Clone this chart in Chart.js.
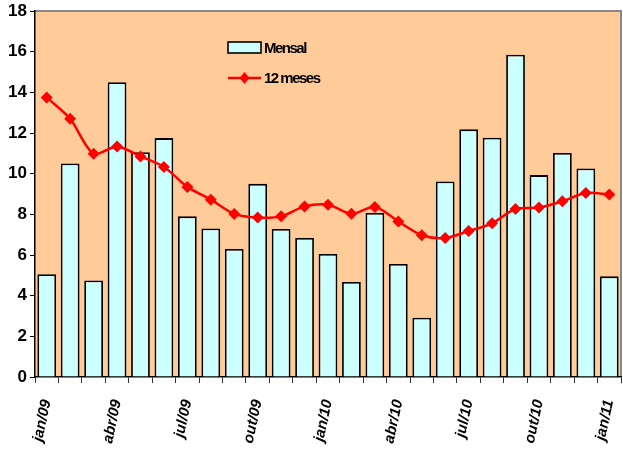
<!DOCTYPE html>
<html>
<head>
<meta charset="utf-8">
<script src="https://cdn.jsdelivr.net/npm/chart.js@4/dist/chart.umd.min.js"></script>
<style>
  html, body { margin: 0; padding: 0; background: #ffffff; }
  #wrap { width: 623px; height: 455px; }
</style>
</head>
<body>
<div id="wrap"><canvas id="c" width="623" height="455"></canvas></div>
<script>
// Months from jan/09 to jan/11
const categories = [
  'jan/09','fev/09','mar/09','abr/09','mai/09','jun/09','jul/09','ago/09','set/09','out/09','nov/09','dez/09',
  'jan/10','fev/10','mar/10','abr/10','mai/10','jun/10','jul/10','ago/10','set/10','out/10','nov/10','dez/10',
  'jan/11'
];
// Monthly values (bars)
const mensal = [5.05, 10.5, 4.75, 14.5, 11.05, 11.75, 7.9, 7.3, 6.3, 9.5, 7.28, 6.84,
                6.05, 4.67, 8.07, 5.56, 2.92, 9.62, 12.18, 11.77, 15.85, 9.93, 11.02, 10.26,
                4.95];
// Accumulated 12-month values (line)
const dozeMeses = [13.75, 12.7, 10.98, 11.34, 10.85, 10.33, 9.35, 8.72, 8.02, 7.84, 7.9, 8.39,
                   8.47, 8.03, 8.36, 7.65, 6.97, 6.84, 7.18, 7.56, 8.26, 8.33, 8.64, 9.05,
                   8.97];
// Labels printed on the x axis (quarterly)
const shownTicks = ['jan/09','abr/09','jul/09','out/09','jan/10','abr/10','jul/10','out/10','jan/11'];
// Y axis ticks
const yTicks = [0, 2, 4, 6, 8, 10, 12, 14, 16, 18];

const FONT = '"Liberation Sans", Arial, sans-serif';

// Peach plot background with grey frame on top and right
const plotFrame = {
  id: 'plotFrame',
  beforeDraw(chart) {
    const { ctx, chartArea: a } = chart;
    ctx.save();
    ctx.fillStyle = '#FFCC99';
    ctx.fillRect(a.left, a.top, a.right - a.left, a.bottom - a.top);
    ctx.strokeStyle = '#888888';
    ctx.lineWidth = 2;
    ctx.beginPath();
    ctx.moveTo(a.left, a.top);
    ctx.lineTo(a.right, a.top);
    ctx.lineTo(a.right, a.bottom);
    ctx.stroke();
    ctx.restore();
  }
};

// Legend drawn inside the plot area
const innerLegend = {
  id: 'innerLegend',
  afterDatasetsDraw(chart) {
    const { ctx, chartArea: a } = chart;
    const x0 = a.left + 193;
    const y1 = a.top + 37;
    const y2 = a.top + 67;
    const ds = chart.data.datasets;
    ctx.save();
    // bar swatch
    ctx.fillStyle = ds[0].backgroundColor;
    ctx.strokeStyle = '#000000';
    ctx.lineWidth = 1.6;
    ctx.fillRect(x0, y1 - 6, 33, 11);
    ctx.strokeRect(x0, y1 - 6, 33, 11);
    // line swatch with diamond marker
    ctx.strokeStyle = ds[1].borderColor;
    ctx.lineWidth = 2.5;
    ctx.beginPath();
    ctx.moveTo(x0, y2);
    ctx.lineTo(x0 + 33, y2);
    ctx.stroke();
    ctx.fillStyle = ds[1].pointBackgroundColor;
    ctx.beginPath();
    ctx.moveTo(x0 + 16.5, y2 - 6);
    ctx.lineTo(x0 + 21.5, y2);
    ctx.lineTo(x0 + 16.5, y2 + 6);
    ctx.lineTo(x0 + 11.5, y2);
    ctx.closePath();
    ctx.fill();
    // series names
    ctx.fillStyle = '#000000';
    ctx.font = 'bold 15px ' + FONT;
    ctx.textBaseline = 'middle';
    ctx.textAlign = 'left';
    if ('letterSpacing' in ctx) ctx.letterSpacing = '-1.5px';
    ctx.fillText(ds[0].label, x0 + 36, y1 + 1);
    ctx.fillText(ds[1].label, x0 + 36, y2 + 1);
    ctx.restore();
  }
};

new Chart(document.getElementById('c'), {
  type: 'bar',
  data: {
    labels: categories,
    datasets: [
      {
        type: 'bar',
        label: 'Mensal',
        data: mensal,
        backgroundColor: '#CCFFFF',
        borderColor: '#000000',
        borderWidth: 1.8,
        categoryPercentage: 1.0,
        barPercentage: 0.8,
        order: 2
      },
      {
        type: 'line',
        label: '12 meses',
        data: dozeMeses,
        borderColor: '#FF0000',
        backgroundColor: '#FF0000',
        pointBackgroundColor: '#FF0000',
        pointBorderColor: '#FF0000',
        pointStyle: 'rectRot',
        pointRadius: 6,
        pointBorderWidth: 0,
        borderWidth: 2.5,
        tension: 0.3,
        fill: false,
        order: 1
      }
    ]
  },
  options: {
    responsive: false,
    animation: false,
    devicePixelRatio: 1,
    layout: { autoPadding: false, padding: { top: 11, right: 2, left: 0, bottom: 0 } },
    plugins: {
      legend: { display: false },
      tooltip: { enabled: false }
    },
    scales: {
      x: {
        offset: true,
        grid: {
          offset: true,
          drawOnChartArea: false,
          drawTicks: true,
          tickLength: 6,
          color: '#333333',
          lineWidth: 1
        },
        border: { display: true, color: '#000000', width: 1.5 },
        ticks: {
          autoSkip: false,
          minRotation: 78,
          maxRotation: 78,
          padding: 15,
          color: '#000000',
          font: { family: FONT, size: 15, weight: 'bold', style: 'italic' },
          callback(value, index) {
            const lab = categories[index];
            return shownTicks.includes(lab) ? lab : '';
          }
        },
        afterFit(scale) {
          scale.height = 78;
          scale.paddingLeft = 0;
          scale.paddingRight = 0;
        }
      },
      y: {
        min: yTicks[0],
        max: yTicks[yTicks.length - 1],
        afterBuildTicks(scale) { scale.ticks = yTicks.map(v => ({ value: v })); },
        grid: {
          drawOnChartArea: false,
          drawTicks: true,
          tickLength: 5,
          color: '#000000',
          lineWidth: 1
        },
        border: { display: true, color: '#000000', width: 1.5 },
        ticks: {
          padding: 3,
          color: '#000000',
          font: { family: FONT, size: 17, weight: 'bold' }
        },
        afterFit(scale) {
          scale.width = 35;
          scale.paddingTop = 0;
          scale.paddingBottom = 0;
        }
      }
    }
  },
  plugins: [plotFrame, innerLegend]
});
</script>
</body>
</html>
